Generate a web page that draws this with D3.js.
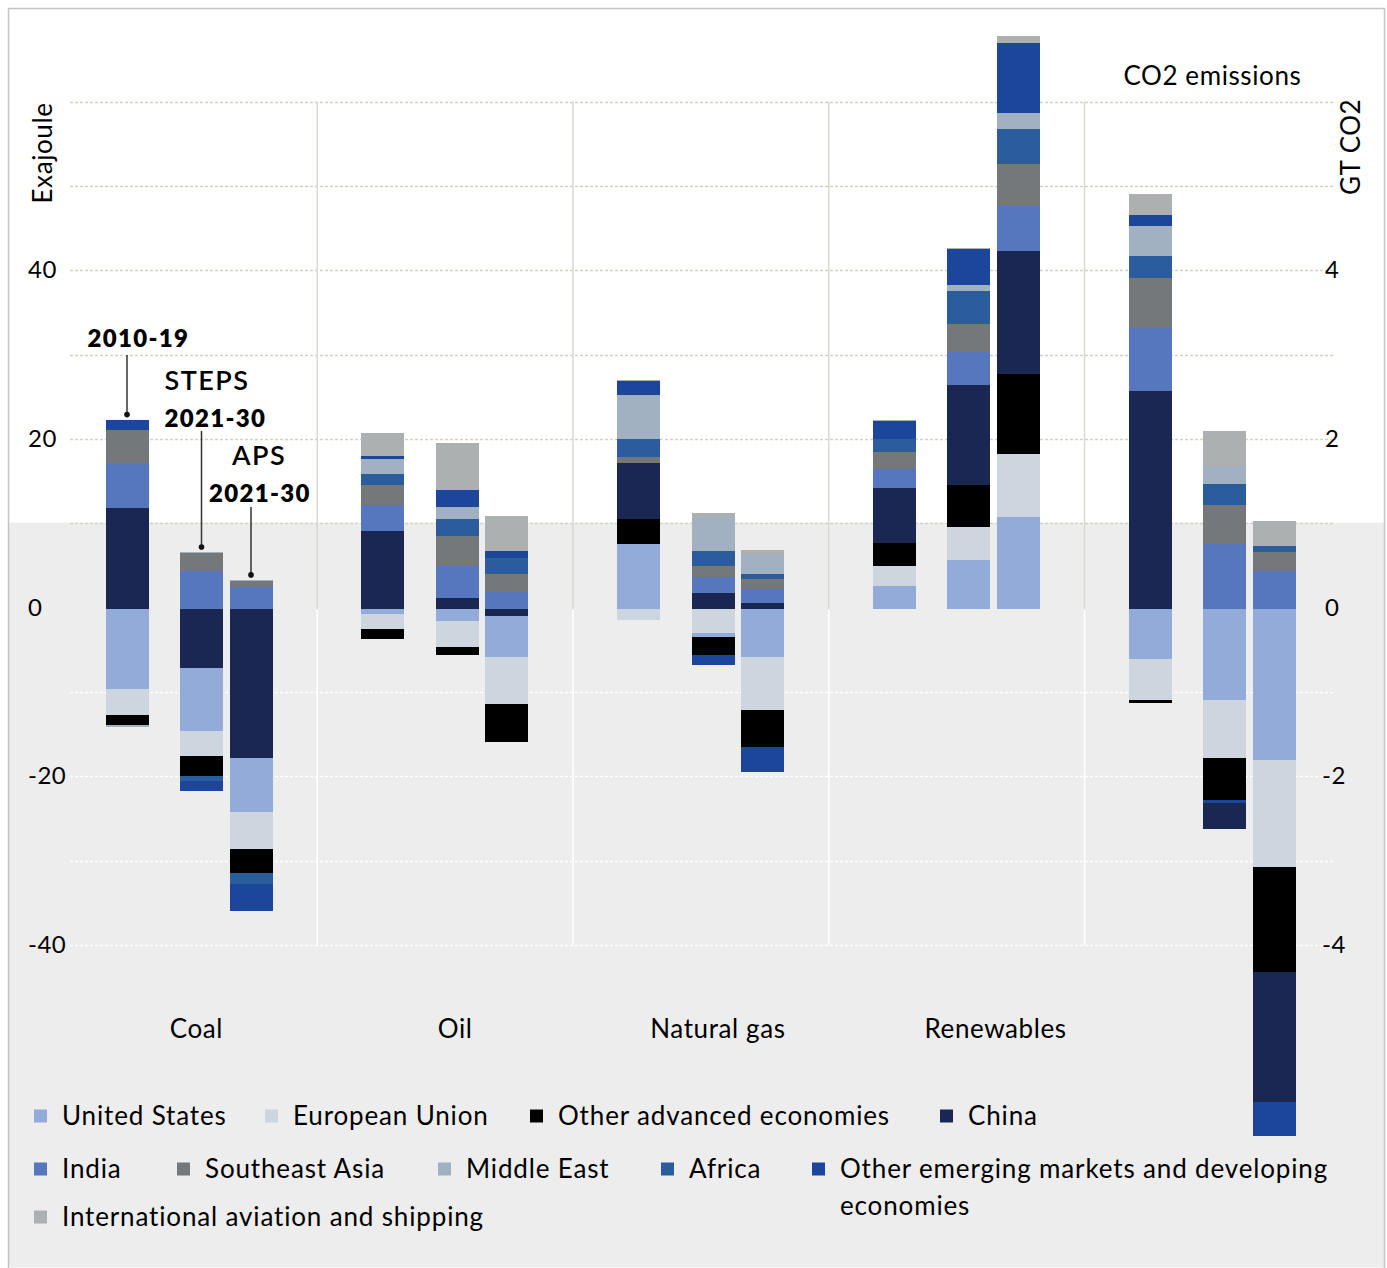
<!DOCTYPE html>
<html><head><meta charset="utf-8">
<script src="https://cdn.jsdelivr.net/npm/d3@7"></script>
<style>
body{margin:0;background:#fff}
svg{display:block}
text{font-family:Lato,"Noto Sans",sans-serif;fill:#000}
</style>
</head><body>
<svg id="chart" width="1387" height="1268"></svg>
<script>
// ---------------- DATA ----------------
const categories = ["Coal", "Oil", "Natural gas", "Renewables", "CO2 emissions"];
const periods = ["2010-19", "STEPS 2021-30", "APS 2021-30"];

// stacking order (bottom-up for positive values)
const seriesKeys = ["US", "EU", "OA", "CN", "IN", "SEA", "AF", "ME", "OEMDE", "AV"];
const seriesNames = {
  US: "United States", EU: "European Union", OA: "Other advanced economies", CN: "China",
  IN: "India", SEA: "Southeast Asia", ME: "Middle East", AF: "Africa",
  OEMDE: "Other emerging markets and developing economies", AV: "International aviation and shipping"
};
const legendKeys = ["US", "EU", "OA", "CN", "IN", "SEA", "ME", "AF", "OEMDE", "AV"];

// values per bar: Coal x3, Oil x3, Natural gas x3, Renewables x3 (Exajoule), CO2 x3 (Gt CO2)
const US    = [-9.4, -7.5, -6.4,  -0.5, -1.4, -4.9,   7.7, -0.5, -5.6,   2.8,  5.9, 10.9,  -0.59, -1.07, -1.78];
const EU    = [-3.1, -3.0, -4.4,  -1.8, -3.1, -5.5,  -1.2, -2.8, -6.3,   2.3,  3.9,  7.5,  -0.49, -0.69, -1.27];
const OA    = [-1.2, -2.4, -2.8,  -1.2, -0.9, -4.5,   3.0, -2.1, -4.4,   2.8,  4.9,  9.5,  -0.03, -0.50, -1.25];
const CN    = [12.0, -6.9, -17.6,  9.3,  1.4, -0.8,   6.6,  2.0,  0.7,   6.5, 11.9, 14.6,   2.59, -0.30, -1.54];
const IN    = [ 5.4,  4.5,  2.6,   3.1,  3.7,  2.1,   0.0,  1.8,  1.7,   2.3,  3.9,  5.3,   0.75,  0.77,  0.45];
const SEA   = [ 3.9,  2.2,  0.8,   2.4,  3.6,  2.1,   0.8,  1.4,  1.2,   2.0,  3.3,  5.0,   0.59,  0.47,  0.23];
const AF    = [ 0.0, -0.5, -1.3,   1.2,  2.0,  1.9,   2.1,  1.7,  0.6,   1.5,  3.9,  4.2,   0.26,  0.25,  0.07];
const ME    = [-0.2,  0.1,  0.1,   1.8,  1.4,  0.0,   5.2,  4.1,  2.4,   0.0,  0.7,  1.8,   0.36,  0.21,  0.00];
const OEMDE = [ 1.2, -1.2, -3.3,   0.4,  2.0,  0.8,   1.7, -1.2, -3.0,   2.1,  4.3,  8.4,   0.13, -0.04, -0.40];
const AV    = [ 0.0,  0.0,  0.0,   2.7,  5.6,  4.2,   0.1,  0.4,  0.4,   0.1,  0.1,  0.8,   0.24,  0.42,  0.30];
const seriesValues = {US, EU, OA, CN, IN, SEA, AF, ME, OEMDE, AV};

// order of negative segments from zero downward, per bar
const negOrder = [
  ["US","EU","OA","ME"], ["CN","US","EU","OA","AF","OEMDE"], ["CN","US","EU","OA","AF","OEMDE"],
  ["US","EU","OA"], ["US","EU","OA"], ["CN","US","EU","OA"],
  ["EU"], ["EU","US","OA","OEMDE"], ["US","EU","OA","OEMDE"],
  [], [], [],
  ["US","EU","OA"], ["US","EU","OA","OEMDE","CN"], ["US","EU","OA","CN","OEMDE"]
];

const leftTicks = [40, 20, 0, -20, -40];
const rightTicks = [4, 2, 0, -2, -4];
const gridValues = [60, 50, 40, 30, 20, 10, -10, -20, -30, -40];

// ---------------- STYLE ----------------
const colors = {
  US: "#92abd9", EU: "#cdd5df", OA: "#000000", CN: "#1b2753", IN: "#5677be",
  SEA: "#74787b", ME: "#a1b1c1", AF: "#2b5d9d", OEMDE: "#1c469b", AV: "#adb0b1"
};

const svg = d3.select("#chart");
const W = 1387, H = 1268;

const y = d3.scaleLinear().domain([-40, 60]).range([945, 101.5]);
const yR = d3.scaleLinear().domain([-4, 6]).range([945, 101.5]);
const xGroup = d3.scaleBand().domain(categories).range([61.5, 61.5 + 5 * 255.75]).paddingInner(0).paddingOuter(0);
const xPeriod = d3.scaleOrdinal().domain(periods).range([44, 118.5, 168]);
const barW = 43;
const barShift = 1.8;

// background
svg.append("rect").attr("x", 0).attr("y", 0).attr("width", W).attr("height", H).attr("fill", "#fff");
svg.append("rect").attr("x", 9).attr("y", y(10) - 0.5).attr("width", 1375).attr("height", H - y(10)).attr("fill", "#ededed");
svg.append("rect").attr("x", 8.5).attr("y", 8.5).attr("width", 1376).attr("height", H + 10)
  .attr("fill", "none").attr("stroke", "#c4c4c4").attr("stroke-width", 1.5);

// gridlines
svg.append("g").selectAll("line").data(gridValues).join("line")
  .attr("x1", 70).attr("x2", 1334)
  .attr("y1", d => Math.round(y(d)) + 0.5).attr("y2", d => Math.round(y(d)) + 0.5)
  .attr("stroke", d => d >= 10 ? "#d2d2c2" : "#ffffff")
  .attr("stroke-width", 1.3).attr("stroke-dasharray", "3,2");

// separators
const seps = categories.slice(1);
svg.append("g").selectAll("line").data(seps).join("line")
  .attr("x1", d => xGroup(d)).attr("x2", d => xGroup(d))
  .attr("y1", y(60)).attr("y2", y(0) + barShift)
  .attr("stroke", "#d9d9d2").attr("stroke-width", 1.5);
svg.append("g").selectAll("line").data(seps).join("line")
  .attr("x1", d => xGroup(d)).attr("x2", d => xGroup(d))
  .attr("y1", y(0) + barShift).attr("y2", y(-40))
  .attr("stroke", "#ffffff").attr("stroke-width", 1.5);

// build segments
const segments = [];
const barTops = [];
categories.forEach((cat, ci) => {
  periods.forEach((per, pi) => {
    const bi = ci * 3 + pi;
    const sc = ci === 4 ? yR : y;
    let cum = 0;
    seriesKeys.forEach(k => {
      const v = seriesValues[k][bi];
      if (v > 0) { segments.push({k, cat, per, sc, v0: cum, v1: cum + v}); cum += v; }
    });
    barTops.push({cat, per, sc, top: cum});
    let neg = 0;
    negOrder[bi].forEach(k => {
      const v = seriesValues[k][bi];
      if (v < 0) { segments.push({k, cat, per, sc, v0: neg + v, v1: neg}); neg += v; }
    });
  });
});

svg.append("g").attr("transform", `translate(0,${barShift})`).attr("shape-rendering", "crispEdges")
  .selectAll("rect").data(segments).join("rect")
  .attr("x", d => xGroup(d.cat) + xPeriod(d.per))
  .attr("width", barW)
  .attr("y", d => d.sc(d.v1))
  .attr("height", d => Math.max(0, d.sc(d.v0) - d.sc(d.v1)))
  .attr("fill", d => colors[d.k]);

// axes labels
svg.append("g").selectAll("text").data(leftTicks).join("text")
  .attr("x", 28).attr("y", d => y(d) + 8)
  .attr("font-size", 24).attr("letter-spacing", 0.5).text(d => d);
svg.append("g").selectAll("text").data(rightTicks).join("text")
  .attr("x", d => d < 0 ? 1322 : 1325).attr("y", d => yR(d) + 8)
  .attr("font-size", 24).attr("letter-spacing", 0.5).text(d => d);

svg.append("text").attr("transform", "translate(52,153) rotate(-90)")
  .attr("text-anchor", "middle").attr("font-size", 26).attr("letter-spacing", 0.6).text("Exajoule");
svg.append("text").attr("transform", "translate(1360,147) rotate(-90)")
  .attr("text-anchor", "middle").attr("font-size", 26).attr("letter-spacing", 0.5).text("GT CO2");

// category labels
const labelNudge = [7, 10, 17, 39];
svg.append("g").selectAll("text").data(categories.slice(0, 4)).join("text")
  .attr("x", (d, i) => xGroup(d) + xGroup.bandwidth() / 2 + labelNudge[i])
  .attr("y", 1038).attr("text-anchor", "middle").attr("font-size", 26).attr("letter-spacing", 0.6).text(d => d);
svg.append("text").attr("x", xGroup("CO2 emissions") + xGroup.bandwidth() / 2).attr("y", 85)
  .attr("text-anchor", "middle").attr("font-size", 26).attr("letter-spacing", 0.6).text("CO2 emissions");

// annotations on coal bars
const coalTops = barTops.filter(b => b.cat === "Coal");
const ann = [
  {per: "2010-19", lines: [{t: "2010-19", dx: -18, y: 347, bold: 800, fs: 24, ls: 1.3}], lineTop: 355},
  {per: "STEPS 2021-30", lines: [{t: "STEPS", dx: -15.5, y: 390, bold: 600, fs: 27, ls: 1.5}, {t: "2021-30", dx: -15.5, y: 427, bold: 800, fs: 24, ls: 1.3}], lineTop: 431},
  {per: "APS 2021-30", lines: [{t: "APS", dx: 2.5, y: 465, bold: 600, fs: 27, ls: 1.5}, {t: "2021-30", dx: -20.5, y: 502, bold: 800, fs: 24, ls: 1.3}], lineTop: 507}
];
ann.forEach(a => {
  const b = coalTops.find(c => c.per === a.per);
  const bx = xGroup("Coal") + xPeriod(a.per);
  const cx = bx + barW / 2;
  const bottom = b.sc(b.top) + barShift - 5;
  svg.append("line").attr("x1", cx).attr("x2", cx).attr("y1", a.lineTop).attr("y2", bottom)
    .attr("stroke", "#333").attr("stroke-width", 1.5);
  svg.append("circle").attr("cx", cx).attr("cy", bottom).attr("r", 2.8).attr("fill", "#111");
  a.lines.forEach(l => {
    svg.append("text").attr("x", bx + l.dx).attr("y", l.y).attr("font-size", l.fs)
      .attr("font-weight", l.bold).attr("letter-spacing", l.ls).text(l.t);
  });
});

// legend
const legendPos = {
  US: [34, 1116], EU: [265, 1116], OA: [530, 1116], CN: [940, 1116],
  IN: [34, 1169], SEA: [177, 1169], ME: [438, 1169], AF: [661, 1169], OEMDE: [812, 1169],
  AV: [34, 1217]
};
const lg = svg.append("g");
legendKeys.forEach(k => {
  const [lx, ly] = legendPos[k];
  lg.append("rect").attr("x", lx).attr("y", ly - 6.5).attr("width", 13).attr("height", 13).attr("fill", colors[k]);
  const t = lg.append("text").attr("x", lx + 28).attr("y", ly + 9).attr("font-size", 26).attr("letter-spacing", 0.85);
  if (k === "OEMDE") {
    t.append("tspan").attr("x", lx + 28).text("Other emerging markets and developing");
    t.append("tspan").attr("x", lx + 28).attr("dy", 37).text("economies");
  } else {
    t.text(seriesNames[k]);
  }
});
</script>
</body></html>
